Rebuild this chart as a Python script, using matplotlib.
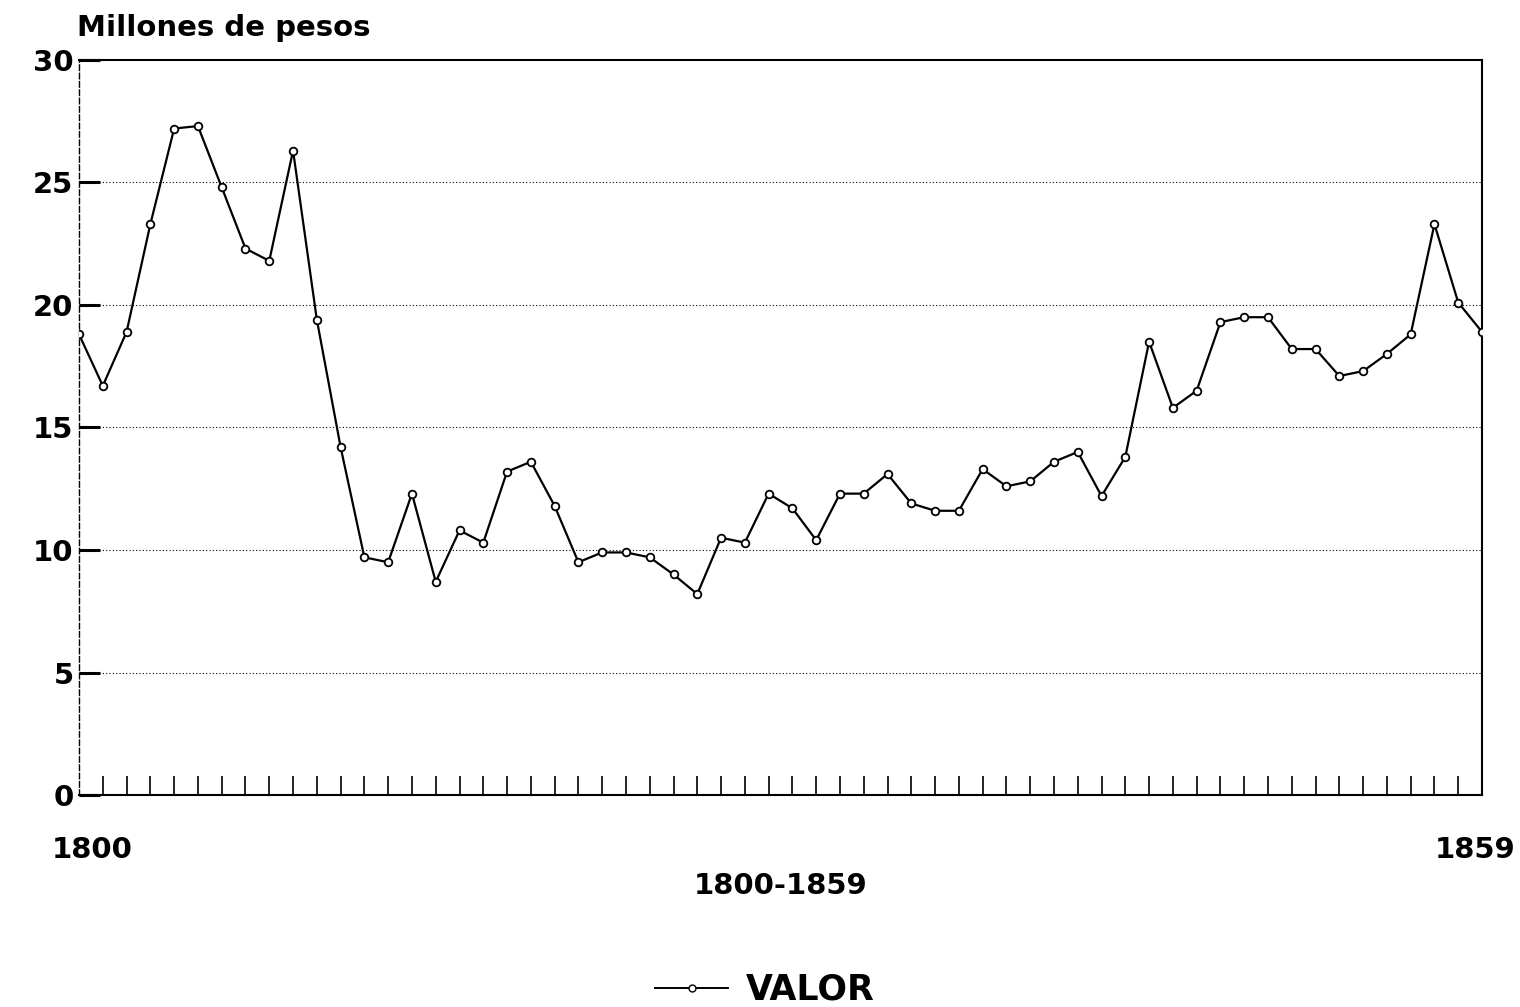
import numpy as np
import matplotlib
matplotlib.use("Agg")
import matplotlib.pyplot as plt
from matplotlib.lines import Line2D

plt.rcParams['font.family'] = ['DejaVu Sans']
plt.rcParams['font.weight'] = 'bold'

# Valor, millones de pesos, 1800-1859
years = list(range(1800, 1860))
valor = [18.8, 16.7, 18.9, 23.3, 27.2, 27.3, 24.8, 22.3, 21.8, 26.3,
         19.4, 14.2, 9.7, 9.5, 12.3, 8.7, 10.8, 10.3, 13.2, 13.6,
         11.8, 9.5, 9.9, 9.9, 9.7, 9.0, 8.2, 10.5, 10.3, 12.3,
         11.7, 10.4, 12.3, 12.3, 13.1, 11.9, 11.6, 11.6, 13.3, 12.6,
         12.8, 13.6, 14.0, 12.2, 13.8, 18.5, 15.8, 16.5, 19.3, 19.5,
         19.5, 18.2, 18.2, 17.1, 17.3, 18.0, 18.8, 23.3, 20.1, 18.9]
y_ticks = [0, 5, 10, 15, 20, 25, 30]

fig = plt.figure(figsize=(15.2, 10.07), dpi=100)
ax = fig.add_axes([0.052, 0.2105, 0.923, 0.73])

# dotted grid lines
for v in y_ticks[1:-1]:
    ax.axhline(v, color='black', linestyle=(0, (1, 2)), linewidth=0.8, zorder=1)

ax.plot(years, valor, color='black', linewidth=1.6, marker='o', markersize=5.5,
        markerfacecolor='white', markeredgecolor='black', markeredgewidth=1.3, zorder=3)

ax.set_xlim(1800, 1859)
ax.set_ylim(0, 30)

ax.set_yticks(y_ticks)
ax.set_yticklabels([str(v) for v in y_ticks], fontsize=21, fontweight='bold')
ax.set_xticks(years[1:-1])
ax.set_xticklabels([])
ax.tick_params(axis='x', direction='in', length=14, width=1.2, color='black')
ax.tick_params(axis='y', direction='in', length=15, width=2.2, pad=4, color='black')

for s in ['top', 'right', 'bottom']:
    ax.spines[s].set_linewidth(1.5)
ax.spines['left'].set_linestyle((0, (4, 2)))
ax.spines['left'].set_linewidth(1.0)

# texts
fig.text(77 / 1520, 1 - 28 / 1007, 'Millones de pesos', fontsize=21, fontweight='bold',
         ha='left', va='center')
fig.text(52 / 1520, 1 - 850 / 1007, '1800', fontsize=21, fontweight='bold', ha='left', va='center')
fig.text(1515 / 1520, 1 - 850 / 1007, '1859', fontsize=21, fontweight='bold', ha='right', va='center')
fig.text(781 / 1520, 1 - 886 / 1007, '1800-1859', fontsize=21, fontweight='bold', ha='center', va='center')

# legend at bottom
handle = Line2D([], [], color='black', linewidth=1.4, marker='o', markersize=5,
                markerfacecolor='white', markeredgecolor='black')
fig.legend([handle], ['VALOR'], loc='center', bbox_to_anchor=(765 / 1520, 1 - 990 / 1007),
           frameon=False, prop={'size': 25, 'weight': 'bold'}, handlelength=2.1,
           handletextpad=0.5)

fig.savefig('out.png', dpi=100)
